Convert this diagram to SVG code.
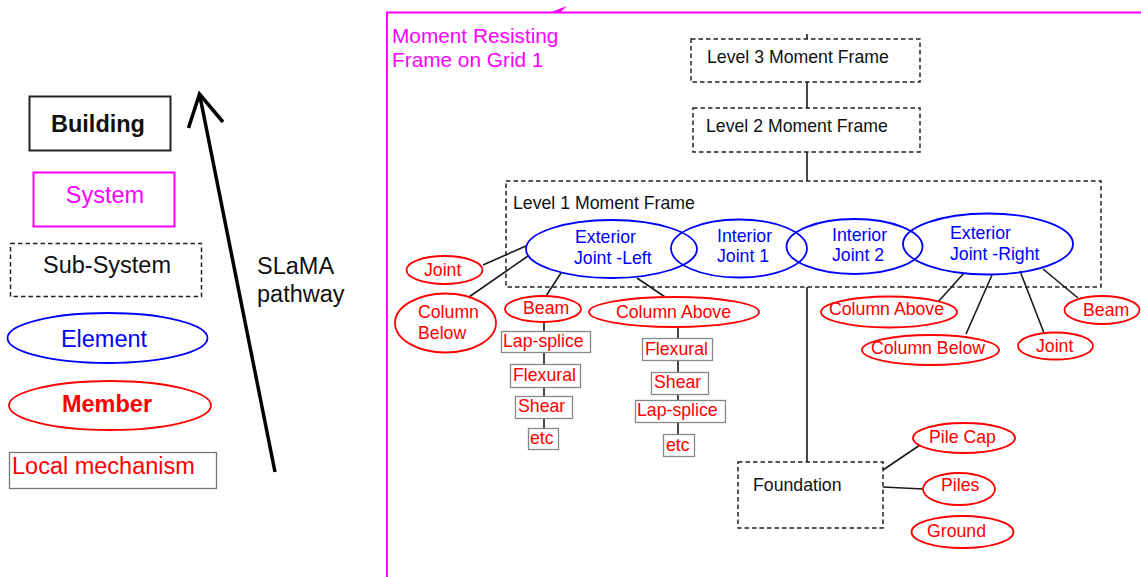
<svg xmlns="http://www.w3.org/2000/svg" width="1141" height="577" viewBox="0 0 1141 577">
<style>
text{font-family:"Liberation Sans",Arial,sans-serif;font-size:17.7px}
.lg{font-size:23.5px}
.ttl{font-size:20.8px}
.k{fill:#111}
.r{fill:#ff0000}
.b{fill:#0000ff}
.m{fill:#ff00ff}
.dash{fill:none;stroke:#222;stroke-width:1.5;stroke-dasharray:4.5 3}
.el{fill:none;stroke:#0000ff;stroke-width:1.8}
.mem{fill:none;stroke:#ff0000;stroke-width:1.8}
.box{fill:#fff;stroke:#888;stroke-width:1.3}
.ln{stroke:#1a1a1a;stroke-width:1.6;fill:none}
</style>
<rect width="1141" height="577" fill="#fff"/>

<g id="legend">
  <g id="leg-building"><rect x="29.5" y="96.5" width="141" height="54" fill="none" stroke="#222" stroke-width="2"/><text class="lg k" x="98" y="132" text-anchor="middle" font-weight="bold">Building</text></g>
  <g id="leg-system"><rect x="33.5" y="172.5" width="141" height="54" fill="none" stroke="#ff00ff" stroke-width="2"/><text class="lg m" x="105" y="203" text-anchor="middle">System</text></g>
  <g id="leg-subsystem"><rect x="10.5" y="243.5" width="191" height="53" class="dash" stroke-width="2"/><text class="lg k" x="107" y="273" text-anchor="middle">Sub-System</text></g>
  <g id="leg-element"><ellipse cx="107.5" cy="338" rx="100" ry="25" class="el" stroke-width="2"/><text class="lg b" x="104" y="347" text-anchor="middle">Element</text></g>
  <g id="leg-member"><ellipse cx="110" cy="405.5" rx="101" ry="24.5" class="mem" stroke-width="2"/><text class="lg r" x="107" y="412" text-anchor="middle" font-weight="bold">Member</text></g>
  <g id="leg-local"><rect x="9.5" y="452.5" width="207" height="36" fill="none" stroke="#777" stroke-width="1.3"/><text class="lg r" x="12" y="474">Local mechanism</text></g>
  <g id="slama-arrow">
    <line x1="275" y1="472" x2="199.5" y2="94" stroke="#000" stroke-width="3.5"/>
    <polyline points="188.5,128 199.5,94 223,122" fill="none" stroke="#000" stroke-width="3.5"/>
    <text class="lg k" x="257" y="274">SLaMA</text>
    <text class="lg k" x="257" y="302">pathway</text>
  </g>
</g>

<g id="frame">
  <path d="M387,577 V12.5 H1141" fill="none" stroke="#ff00ff" stroke-width="2"/>
  <polygon points="550,12.5 567,6 560,12.5" fill="#ff00ff"/>
  <text class="m ttl" x="392" y="43">Moment Resisting</text>
  <text class="m ttl" x="392" y="67">Frame on Grid 1</text>
</g>

<g id="connectors">
  <line class="ln" x1="807" y1="34" x2="807" y2="39"/>
  <line class="ln" x1="807" y1="82" x2="807" y2="108"/>
  <line class="ln" x1="807" y1="152" x2="807" y2="181"/>
  <line class="ln" x1="807" y1="287" x2="807" y2="462"/>
  <line class="ln" x1="483" y1="265" x2="526" y2="246"/>
  <line class="ln" x1="469" y1="297" x2="528" y2="256"/>
  <line class="ln" x1="546" y1="296" x2="561" y2="273"/>
  <line class="ln" x1="637" y1="278" x2="665" y2="297"/>
  <line class="ln" x1="544" y1="322" x2="544" y2="428"/>
  <line class="ln" x1="678" y1="327" x2="678" y2="435"/>
  <line class="ln" x1="938" y1="302" x2="964" y2="273"/>
  <line class="ln" x1="966" y1="334" x2="992" y2="275"/>
  <line class="ln" x1="1044" y1="333" x2="1020" y2="271"/>
  <line class="ln" x1="1078" y1="298" x2="1043" y2="269"/>
  <line class="ln" x1="883" y1="470" x2="920" y2="445"/>
  <line class="ln" x1="883" y1="487" x2="923" y2="489"/>
</g>

<g id="level3"><rect x="691" y="39" width="229" height="43" class="dash"/><text class="k" x="707" y="63">Level 3 Moment Frame</text></g>
<g id="level2"><rect x="693" y="108" width="227" height="44" class="dash"/><text class="k" x="706" y="132">Level 2 Moment Frame</text></g>
<g id="level1"><rect x="506" y="181" width="595" height="106" class="dash"/><text class="k" x="513" y="209">Level 1 Moment Frame</text></g>

<g id="ext-left"><ellipse cx="611.5" cy="249" rx="85.5" ry="29" class="el"/><text class="b" x="575" y="243">Exterior</text><text class="b" x="574" y="264">Joint -Left</text></g>
<g id="int-1"><ellipse cx="739" cy="248.5" rx="68" ry="29" class="el"/><text class="b" x="717" y="242">Interior</text><text class="b" x="717" y="262">Joint 1</text></g>
<g id="int-2"><ellipse cx="854.5" cy="246.5" rx="68" ry="27.5" class="el"/><text class="b" x="832" y="241">Interior</text><text class="b" x="832" y="261">Joint 2</text></g>
<g id="ext-right"><ellipse cx="988" cy="244" rx="85" ry="30.5" class="el"/><text class="b" x="950" y="239">Exterior</text><text class="b" x="950" y="260">Joint -Right</text></g>

<g id="joint-l"><ellipse cx="444.5" cy="270" rx="38" ry="14" class="mem"/><text class="r" x="424" y="276">Joint</text></g>
<g id="colbelow-l"><ellipse cx="445.5" cy="323" rx="50.5" ry="29.5" class="mem"/><text class="r" x="418" y="318">Column</text><text class="r" x="418" y="339">Below</text></g>
<g id="beam-l"><ellipse cx="543" cy="309" rx="38" ry="13" class="mem"/><text class="r" x="523" y="314">Beam</text></g>
<g id="colabove-l"><ellipse cx="674" cy="312" rx="85" ry="15" class="mem"/><text class="r" x="616" y="318">Column Above</text></g>

<g id="lap-l"><rect x="501.5" y="331.5" width="89" height="21" class="box"/><text class="r" x="503" y="347">Lap-splice</text></g>
<g id="flex-l"><rect x="510.5" y="364.5" width="70" height="23" class="box"/><text class="r" x="513" y="381">Flexural</text></g>
<g id="shear-l"><rect x="515.5" y="396.5" width="57" height="22" class="box"/><text class="r" x="518" y="412">Shear</text></g>
<g id="etc-l"><rect x="528.5" y="428.5" width="30" height="21" class="box"/><text class="r" x="530" y="444">etc</text></g>

<g id="flex-r"><rect x="642.5" y="338.5" width="70" height="22" class="box"/><text class="r" x="645" y="355">Flexural</text></g>
<g id="shear-r"><rect x="651.5" y="372.5" width="57" height="22" class="box"/><text class="r" x="654" y="388">Shear</text></g>
<g id="lap-r"><rect x="635.5" y="400.5" width="90" height="22" class="box"/><text class="r" x="637" y="416">Lap-splice</text></g>
<g id="etc-r"><rect x="663.5" y="434.5" width="31" height="22" class="box"/><text class="r" x="666" y="451">etc</text></g>

<g id="colabove-r"><ellipse cx="889" cy="312" rx="68" ry="15.5" class="mem"/><text class="r" x="829" y="315">Column Above</text></g>
<g id="colbelow-r"><ellipse cx="930.5" cy="350" rx="68.5" ry="15" class="mem"/><text class="r" x="871" y="354">Column Below</text></g>
<g id="joint-r"><ellipse cx="1055.5" cy="346" rx="37.5" ry="13.5" class="mem"/><text class="r" x="1036" y="352">Joint</text></g>
<g id="beam-r"><ellipse cx="1102" cy="310" rx="37.5" ry="14" class="mem"/><text class="r" x="1083" y="316">Beam</text></g>

<g id="foundation"><rect x="738" y="462" width="145" height="66" class="dash"/><text class="k" x="753" y="491">Foundation</text></g>
<g id="pilecap"><ellipse cx="964" cy="438" rx="51" ry="15" class="mem"/><text class="r" x="929" y="443">Pile Cap</text></g>
<g id="piles"><ellipse cx="959" cy="489" rx="36" ry="16" class="mem"/><text class="r" x="941" y="491">Piles</text></g>
<g id="ground"><ellipse cx="962.5" cy="532" rx="51" ry="16" class="mem"/><text class="r" x="927" y="537">Ground</text></g>
</svg>
